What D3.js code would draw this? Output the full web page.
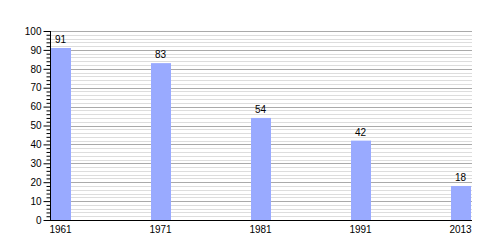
<!DOCTYPE html>
<html><head><meta charset="utf-8">
<script src="https://cdn.jsdelivr.net/npm/d3@7"></script>
<style>body{margin:0;background:#fff}svg{display:block}</style>
</head><body>
<svg id="c" width="500" height="250"></svg>
<script>
const categories = ["1961","1971","1981","1991","2013"];
const values = [91, 83, 54, 42, 18];
const yTicks = [0,10,20,30,40,50,60,70,80,90,100];

(function(){
const svg = d3.select("#c");
const mLeft = 50, mRight = 472, mTop = 31, mBottom = 220;
const font = "Liberation Sans, Arial, sans-serif";

const y = d3.scaleLinear().domain([0,100]).range([mBottom, mTop]);
const x = d3.scaleBand().domain(categories).range([mLeft, 471]).paddingInner(0.79).paddingOuter(0);

const minor = d3.range(0, 101, 2).filter(v => v % 10 !== 0);
svg.append("g").selectAll("line").data(minor).join("line")
  .attr("x1", mLeft).attr("x2", mRight)
  .attr("y1", d => Math.round(y(d)) + 0.5).attr("y2", d => Math.round(y(d)) + 0.5)
  .attr("stroke", "#dddddd").attr("stroke-width", 1);
svg.append("g").selectAll("line").data(yTicks.filter(v => v > 0)).join("line")
  .attr("x1", mLeft).attr("x2", mRight)
  .attr("y1", d => Math.round(y(d)) + 0.5).attr("y2", d => Math.round(y(d)) + 0.5)
  .attr("stroke", "#aaaaaa").attr("stroke-width", 1);

svg.append("g").selectAll("rect").data(values).join("rect")
  .attr("x", (d,i) => x(categories[i]) + 1)
  .attr("y", d => y(d))
  .attr("width", x.bandwidth() - 1)
  .attr("height", d => mBottom - y(d))
  .attr("fill", "#99aaff");

svg.append("g").selectAll("text").data(values).join("text")
  .attr("x", (d,i) => x(categories[i]) + x.bandwidth() / 2)
  .attr("y", d => y(d) - 5)
  .attr("text-anchor", "middle")
  .attr("font-family", font).attr("font-size", 10).attr("fill", "#000")
  .text(d => d);

const yAxis = d3.axisLeft(y).tickValues(yTicks).tickSize(7).tickPadding(2).tickFormat(d3.format("d"));
const gy = svg.append("g").attr("transform", `translate(${mLeft + 0.5},0)`).call(yAxis);
gy.select(".domain").attr("stroke", "#000").attr("d", `M0,${mTop}V${mBottom}`);
gy.selectAll("text").attr("font-family", font).attr("font-size", 10).attr("fill", "#000");
gy.selectAll(".tick line").attr("stroke", "#000");
const yMinor = d3.axisLeft(y).tickValues(minor).tickSize(4).tickFormat("");
const gym = svg.append("g").attr("transform", `translate(${mLeft + 0.5},0)`).call(yMinor);
gym.select(".domain").remove();
gym.selectAll(".tick line").attr("stroke", "#000");

const xAxis = d3.axisBottom(x).tickSize(0).tickPadding(5);
const gx = svg.append("g").attr("transform", `translate(0,${mBottom + 0.5})`).call(xAxis);
gx.select(".domain").attr("stroke", "#000").attr("d", `M${mLeft},0H${mRight}`);
gx.selectAll("text").attr("font-family", font).attr("font-size", 10).attr("fill", "#000");
})();
</script>
</body></html>
